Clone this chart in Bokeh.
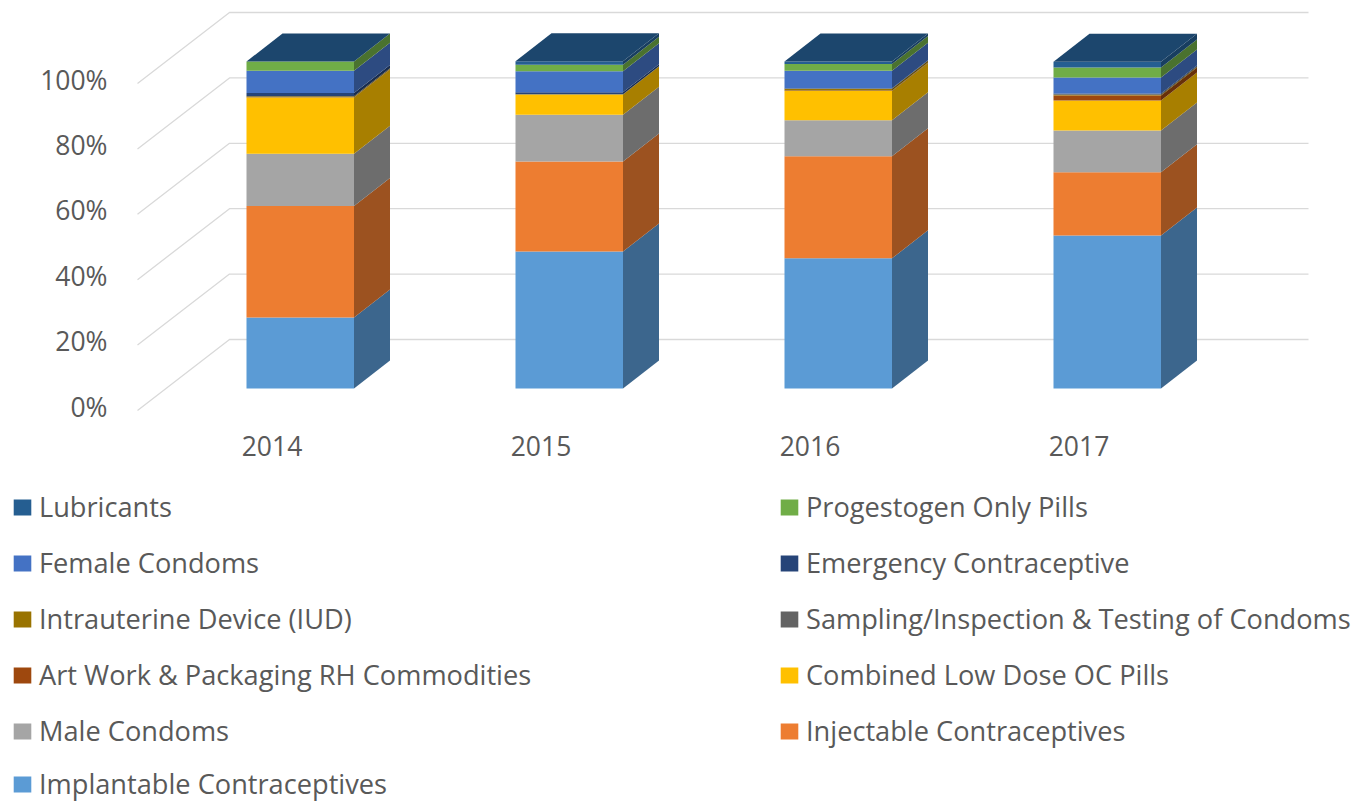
from bokeh.plotting import figure
from bokeh.embed import file_html
from bokeh.resources import INLINE
from bokeh.models import Range1d, FixedTicker, PrintfTickFormatter, Legend, LegendItem

years = [2014, 2015, 2016, 2017]
ticks = [0, 20, 40, 60, 80, 100]

implantable = [21.7, 41.9, 39.8, 46.8]
injectable = [34.1, 27.5, 31.2, 19.3]
male_condoms = [16.0, 14.3, 11.0, 12.8]
combined_oc = [17.2, 6.2, 9.0, 9.2]
art_work = [0.1, 0.0, 0.1, 1.5]
sampling = [0.0, 0.0, 0.0, 0.0]
iud = [0.3, 0.1, 0.6, 0.3]
emergency = [1.0, 0.6, 0.1, 0.3]
female_condoms = [6.8, 6.4, 5.4, 4.9]
progestogen = [2.8, 2.0, 2.0, 3.1]
lubricants = [0.0, 1.1, 0.8, 1.7]

series = [
    ("Implantable Contraceptives", implantable, "#5B9BD5"),
    ("Injectable Contraceptives", injectable, "#ED7D31"),
    ("Male Condoms", male_condoms, "#A5A5A5"),
    ("Combined Low Dose OC Pills", combined_oc, "#FFC000"),
    ("Art Work & Packaging RH Commodities", art_work, "#9E480E"),
    ("Sampling/Inspection & Testing of Condoms", sampling, "#636363"),
    ("Intrauterine Device (IUD)", iud, "#997300"),
    ("Emergency Contraceptive", emergency, "#264478"),
    ("Female Condoms", female_condoms, "#4472C4"),
    ("Progestogen Only Pills", progestogen, "#70AD47"),
    ("Lubricants", lubricants, "#255E91"),
]

legend_left = ["Lubricants", "Female Condoms", "Intrauterine Device (IUD)",
               "Art Work & Packaging RH Commodities", "Male Condoms"]
legend_last = ["Implantable Contraceptives"]
legend_right = ["Progestogen Only Pills", "Emergency Contraceptive",
                "Sampling/Inspection & Testing of Condoms",
                "Combined Low Dose OC Pills", "Injectable Contraceptives"]

FONT = "Open Sans"
FS = "26.5px"
LEG_FS = "27.2px"
TXT = "#595959"
GRID = "#D9D9D9"

PX_X = 269.0   # px per year
PX_Y = 3.27    # px per percent
W, H = 1355, 802
ORG_X, ORG_Y = 271.5, 406

def dx(px):
    return px / PX_X

def dy(px):
    return px / PX_Y

def shade(hex_color, f):
    r, g, b = (int(hex_color[i:i + 2], 16) for i in (1, 3, 5))
    return "#%02X%02X%02X" % (round(r * f), round(g * f), round(b * f))

p = figure(width=W, height=H, output_backend="svg", toolbar_location=None,
           min_border=0,
           x_range=Range1d(years[0] - dx(ORG_X), years[0] + dx(W - ORG_X)),
           y_range=Range1d(-dy(H - ORG_Y), dy(ORG_Y)))
p.outline_line_color = None
p.background_fill_color = "white"
p.grid.visible = False

# walls
BAR_OFF_L, BAR_W = -25.5, 107.5
BAR_LIFT = 18
DEPTH_X, DEPTH_Y = 36, 28
WALL_L, WALL_R = -134.5, -42.5
WALL_END = 1036.5
FRONT_DROP, BACK_RISE = -4, 67

xs_wall = [[years[0] + dx(WALL_L), years[0] + dx(WALL_R), years[0] + dx(WALL_END)] for _ in ticks]
ys_wall = [[t + dy(FRONT_DROP), t + dy(BACK_RISE), t + dy(BACK_RISE)] for t in ticks]
p.multi_line(xs_wall, ys_wall, line_color=GRID, line_width=1.3)

# bars
renderers = {}
base = [0.0] * len(years)
for name, vals, color in series:
    left = [y + dx(BAR_OFF_L) for y in years]
    right = [y + dx(BAR_OFF_L + BAR_W) for y in years]
    bottom = [b + dy(BAR_LIFT) for b in base]
    top = [b + v + dy(BAR_LIFT) for b, v in zip(base, vals)]
    renderers[name] = p.quad(left=left, right=right, bottom=bottom, top=top,
                             fill_color=color, line_color=None)
    sx = [[r, r + dx(DEPTH_X), r + dx(DEPTH_X), r] for r in right]
    sy = [[b, b + dy(DEPTH_Y), t + dy(DEPTH_Y), t] for b, t in zip(bottom, top)]
    p.patches(sx, sy, fill_color=shade(color, 0.66), line_color=None)
    base = [b + v for b, v in zip(base, vals)]

tx = [[y + dx(BAR_OFF_L), y + dx(BAR_OFF_L + DEPTH_X),
       y + dx(BAR_OFF_L + BAR_W + DEPTH_X), y + dx(BAR_OFF_L + BAR_W)] for y in years]
ty = [[b + dy(BAR_LIFT), b + dy(BAR_LIFT + DEPTH_Y), b + dy(BAR_LIFT + DEPTH_Y), b + dy(BAR_LIFT)] for b in base]
p.patches(tx, ty, fill_color=shade("#255E91", 0.75), line_color=None)

# axes, fixed inside the frame so the frame can fill the whole canvas
xa = p.xaxis[0]
xa.ticker = FixedTicker(ticks=years)
xa.formatter = PrintfTickFormatter(format="%d")
xa.fixed_location = -dy(431 - ORG_Y)
ya = p.yaxis[0]
ya.ticker = FixedTicker(ticks=ticks)
ya.formatter = PrintfTickFormatter(format="%d%%")
ya.fixed_location = years[0] - dx(ORG_X - 113)
for a in (xa, ya):
    a.axis_line_color = None
    a.major_tick_line_color = None
    a.minor_tick_line_color = None
    a.major_tick_in = 0
    a.major_tick_out = 0
    a.major_label_text_font = FONT
    a.major_label_text_font_size = FS
    a.major_label_text_color = TXT
xa.major_label_standoff = 4
ya.major_label_standoff = 6

# legends
def make_legend(names, x, y):
    return Legend(
        items=[LegendItem(label=n, renderers=[renderers[n]]) for n in names],
        location=(x, y), orientation="vertical", margin=0, padding=0, spacing=19,
        background_fill_alpha=0, border_line_color=None,
        glyph_width=22, glyph_height=20, label_standoff=6,
        label_text_font=FONT, label_text_font_size=LEG_FS, label_text_color=TXT,
        click_policy="none")

p.add_layout(make_legend(legend_left, 11, 53), "center")
p.add_layout(make_legend(legend_last, 11, 0), "center")
p.add_layout(make_legend(legend_right, 778, 53), "center")

open("out.html", "w").write(file_html(p, INLINE))
